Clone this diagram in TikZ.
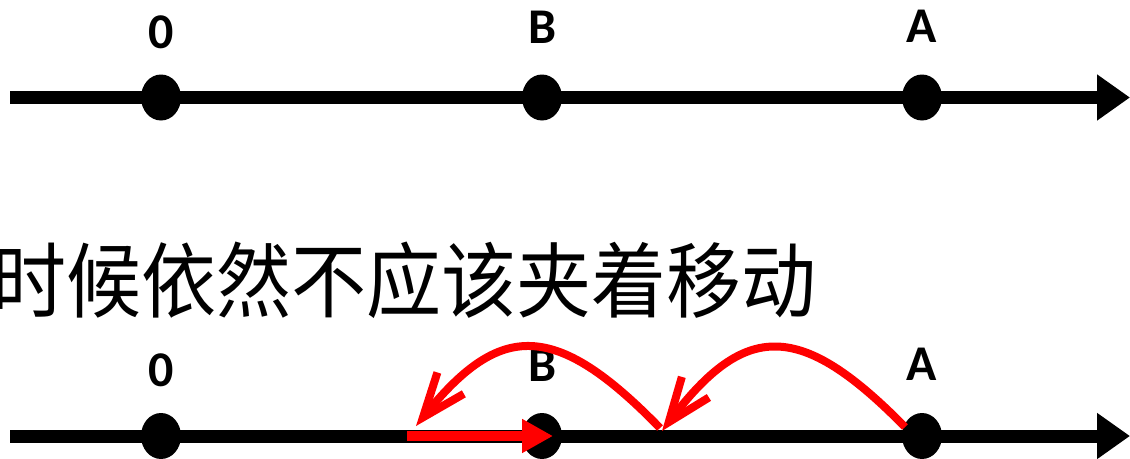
\documentclass[tikz,border=0pt]{standalone}
\usepackage{fontspec}
\setmainfont{Carlito}
\newfontfamily\cjk[FakeStretch=0.915]{Noto Sans CJK SC}
\usetikzlibrary{arrows.meta,shapes.geometric}
\begin{document}
\begin{tikzpicture}[x=1pt,y=-1pt,
  dot/.style={ellipse,fill=black,minimum width=40pt,minimum height=46pt,inner sep=0pt},
  axis/.style={line width=13pt,-{Triangle[length=33pt,width=44pt]}},
  lbl/.style={font=\bfseries\fontsize{50}{50}\selectfont,anchor=base,inner sep=0pt},
  jump/.style={red,line width=8pt,-{Straight Barb[length=44pt,width=34pt]}},
  push/.style={red,line width=10pt,-{Triangle[length=31pt,width=32pt]}}]
\useasboundingbox (0,0) rectangle (1130,458);
% top number line
\coordinate (s1) at (10,97.5);
\coordinate (e1) at (1130,97.5);
\draw[axis] (s1) -- (e1);
\node[dot] (O1) at (161,97.5) {};
\node[dot] (B1) at (542,97.5) {};
\node[dot] (A1) at (922,97.5) {};
\node[lbl] (lO1) at (161,48) {0};
\node[lbl] (lB1) at (543,43) {B};
\node[lbl] (lA1) at (922,42) {A};
% caption
\node[anchor=base west,inner sep=0pt,font=\cjk\fontsize{82}{82}\selectfont] (txt) at (-9,311) {时候依然不应该夹着移动};
% bottom number line
\coordinate (s2) at (10,436);
\coordinate (e2) at (1130,436);
\draw[axis] (s2) -- (e2);
\node[dot] (O2) at (161,436) {};
\node[dot] (B2) at (542,436) {};
\node[dot] (A2) at (922,436) {};
\node[lbl] (lO2) at (161,386.5) {0};
\node[lbl] (lB2) at (543,381.5) {B};
\node[lbl] (lA2) at (922,380.5) {A};
% red moves
\coordinate (j1s) at (905,427);
\coordinate (j1e) at (662,431);
\coordinate (j2s) at (660,428);
\coordinate (j2e) at (416,426);
\coordinate (p1) at (407,436);
\coordinate (p2) at (553,436);
\draw[jump] (j1s) .. controls (800,320) and (745,322) .. (j1e);
\draw[jump] (j2s) .. controls (555,320) and (500,322) .. (j2e);
\draw[push] (p1) -- (p2);
\end{tikzpicture}
\end{document}
